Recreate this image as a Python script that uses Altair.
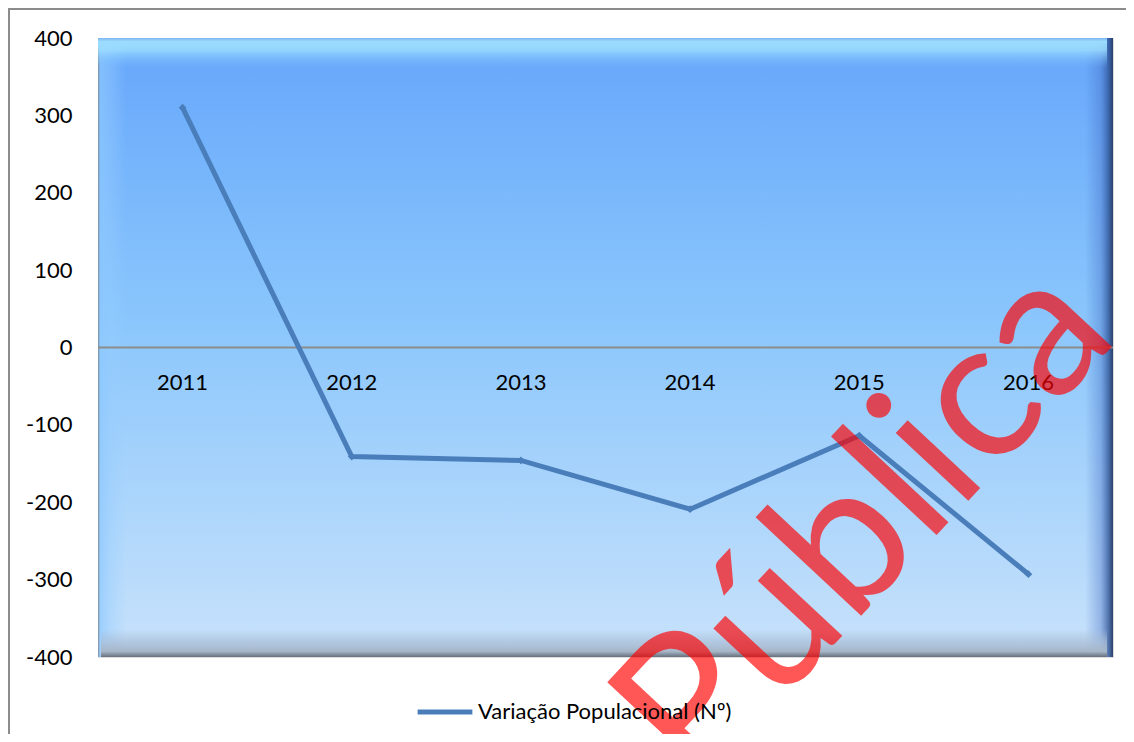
import altair as alt
import pandas as pd

years = ["2011", "2012", "2013", "2014", "2015", "2016"]
values = [310, -141, -146, -209, -114, -293]
series_name = "Variação Populacional (Nº)"
y_ticks = [-400, -300, -200, -100, 0, 100, 200, 300, 400]

W, H = 1015, 619
FONT = "Lato"

df = pd.DataFrame({"year": years, "value": values, "series": [series_name] * len(years)})
one = pd.DataFrame({"k": [0]})

xscale = alt.Scale(type="point", padding=0.5, domain=years)
yscale = alt.Scale(domain=[-400, 400], nice=False, zero=False)
yaxis = alt.Axis(
    values=y_ticks, title=None, domain=False, ticks=False, grid=False,
    labelFontSize=22, labelFont=FONT, labelColor="#000000", labelPadding=26,
    labelExpr="'' + datum.value",
)

def grad(stops, vertical=True):
    return alt.Gradient(
        gradient="linear",
        stops=[alt.GradientStop(color=c, offset=o) for o, c in stops],
        x1=0, x2=0 if vertical else 1, y1=0, y2=1 if vertical else 0,
    )

def band(x, x2, y, y2, fill):
    return alt.Chart(one).mark_rect(fill=fill, strokeWidth=0).encode(
        x=alt.value(x), x2=alt.value(x2), y=alt.value(y), y2=alt.value(y2)
    )

B = 28
bg = band(0, W, 0, H, grad([(0, "#66a6fb"), (0.45, "#8ac6fc"), (1, "#c8e2fb")]))
left_band = band(0, B, 0, H, grad([(0, "#7d8a98"), (0.08, "rgba(140,200,255,0.7)"), (0.5, "rgba(150,205,255,0.35)"), (1, "rgba(150,205,255,0)")], vertical=False))
right_band = band(W - B, W, 0, H, grad([(0, "rgba(60,100,190,0)"), (0.55, "rgba(60,100,190,0.35)"), (0.85, "rgba(40,75,140,0.75)"), (1, "#2a3f66")], vertical=False))
top_band = band(0, W - 6, 0, B + 2, grad([(0, "#7fb6ee"), (0.12, "#9bdcff"), (0.4, "rgba(160,225,255,0.8)"), (1, "rgba(120,190,255,0)")]))
bottom_band = band(3, W - 6, H - B, H, grad([(0, "rgba(170,190,215,0)"), (0.45, "rgba(170,190,215,0.7)"), (0.8, "#a7b6c8"), (1, "#66707c")]))

zero_rule = alt.Chart(one).mark_rule(color="#8c8c8c", strokeWidth=2).encode(
    y=alt.Y(datum=0, scale=yscale, axis=yaxis)
)

line = alt.Chart(df).mark_line(
    strokeWidth=5,
    point=alt.OverlayMarkDef(shape="diamond", size=60, filled=True, color="#4a7ebb"),
).encode(
    x=alt.X("year:N", scale=xscale, axis=None, sort=years),
    y=alt.Y("value:Q", scale=yscale, axis=yaxis),
    color=alt.Color(
        "series:N",
        scale=alt.Scale(range=["#4a7ebb"]),
        legend=alt.Legend(
            orient="none", legendX=317, legendY=644, title=None,
            symbolType="stroke", symbolSize=3000, symbolStrokeWidth=5,
            labelFontSize=22, labelFont=FONT, labelColor="#000000", labelOffset=3,
            labelLimit=600,
        ),
    ),
)

labels = alt.Chart(df).mark_text(
    fontSize=22, font=FONT, color="#000000", dy=35, baseline="middle"
).encode(
    x=alt.X("year:N", scale=xscale, sort=years, axis=None),
    y=alt.Y(datum=0, scale=yscale, axis=yaxis),
    text="year:N",
)

watermark = alt.Chart(one).mark_text(
    text="Pública", font=FONT, fontSize=196, color="#ff0000", opacity=0.66,
    angle=313, align="center", baseline="middle",
).encode(x=alt.value(768), y=alt.value(486))

outer = alt.Chart(one).mark_rect(fill=None, stroke="#8c8c8c", strokeWidth=2, fillOpacity=0).encode(
    x=alt.value(-89), x2=alt.value(2000), y=alt.value(-29), y2=alt.value(2000)
)

chart = alt.layer(
    bg, left_band, right_band, top_band, bottom_band, zero_rule, line, labels, watermark, outer
).properties(
    width=W, height=H,
    autosize=alt.AutoSizeParams(type="none"),
    padding={"left": 90, "top": 30, "right": 13, "bottom": 77},
).configure_view(stroke=None).configure(background="#ffffff")

chart.save("out.html", embed_options={"renderer": "svg", "actions": False})
